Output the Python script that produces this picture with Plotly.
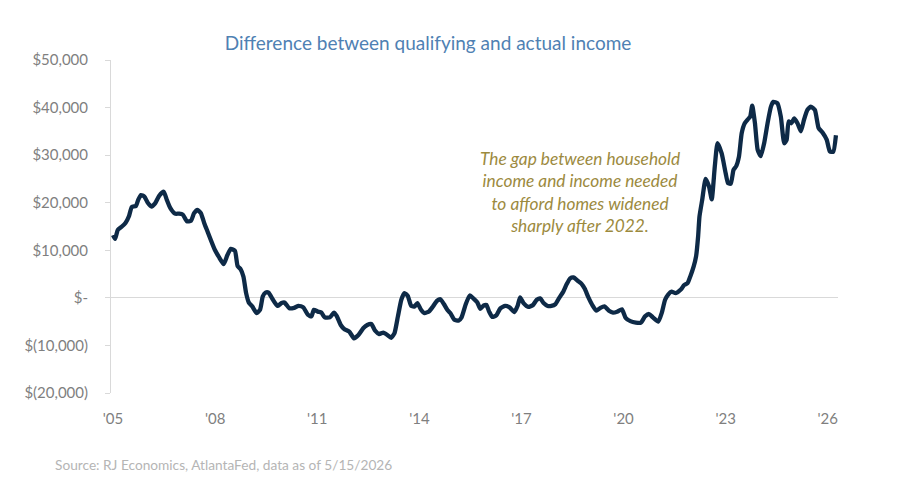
import plotly.graph_objects as go

years = [
    2005.00, 2005.06, 2005.14, 2005.26, 2005.37, 2005.47, 2005.55, 2005.67, 2005.74, 2005.82,
    2005.92, 2006.02, 2006.13, 2006.23, 2006.35, 2006.49, 2006.58, 2006.68, 2006.82, 2006.94,
    2007.05, 2007.17, 2007.29, 2007.38, 2007.48, 2007.58, 2007.68, 2007.79, 2007.87, 2007.99,
    2008.11, 2008.25, 2008.36, 2008.46, 2008.58, 2008.66, 2008.75, 2008.83, 2008.91, 2008.99,
    2009.09, 2009.22, 2009.32, 2009.40, 2009.48, 2009.57, 2009.69, 2009.83, 2009.95, 2010.04,
    2010.18, 2010.32, 2010.45, 2010.59, 2010.73, 2010.83, 2010.90, 2011.02, 2011.12, 2011.22,
    2011.37, 2011.49, 2011.57, 2011.69, 2011.80, 2011.94, 2012.08, 2012.21, 2012.35, 2012.47,
    2012.59, 2012.70, 2012.82, 2012.94, 2013.06, 2013.17, 2013.27, 2013.37, 2013.47, 2013.56,
    2013.66, 2013.76, 2013.86, 2013.94, 2014.05, 2014.15, 2014.29, 2014.40, 2014.52, 2014.62,
    2014.72, 2014.82, 2014.91, 2015.03, 2015.15, 2015.24, 2015.36, 2015.48, 2015.60, 2015.70,
    2015.79, 2015.89, 2015.97, 2016.05, 2016.14, 2016.26, 2016.38, 2016.52, 2016.65, 2016.79,
    2016.89, 2016.96, 2017.06, 2017.20, 2017.34, 2017.45, 2017.55, 2017.65, 2017.77, 2017.88,
    2018.00, 2018.10, 2018.22, 2018.33, 2018.43, 2018.53, 2018.65, 2018.76, 2018.86, 2018.96,
    2019.08, 2019.20, 2019.32, 2019.44, 2019.57, 2019.69, 2019.81, 2019.95, 2020.06, 2020.20,
    2020.36, 2020.51, 2020.63, 2020.75, 2020.86, 2021.02, 2021.12, 2021.22, 2021.31, 2021.41,
    2021.53, 2021.69, 2021.78, 2021.88, 2021.96, 2022.06, 2022.13, 2022.19, 2022.23, 2022.31,
    2022.41, 2022.51, 2022.59, 2022.68, 2022.76, 2022.88, 2023.00, 2023.07, 2023.15, 2023.23,
    2023.31, 2023.39, 2023.47, 2023.56, 2023.66, 2023.72, 2023.78, 2023.86, 2023.94, 2024.03,
    2024.13, 2024.23, 2024.33, 2024.40, 2024.52, 2024.62, 2024.72, 2024.79, 2024.85, 2024.93,
    2025.01, 2025.11, 2025.21, 2025.30, 2025.40, 2025.50, 2025.62, 2025.73, 2025.85, 2025.97,
    2026.06, 2026.16, 2026.24,
]
gap_k = [
    13.2, 12.4, 14.3, 15.0, 15.8, 17.2, 19.1, 19.3, 20.6, 21.6,
    21.3, 20.0, 19.2, 19.8, 21.4, 22.3, 20.6, 18.9, 17.7, 17.7,
    17.5, 16.1, 16.2, 17.8, 18.5, 17.8, 15.7, 13.7, 12.2, 10.1,
    8.6, 7.1, 9.0, 10.3, 9.9, 6.7, 6.0, 4.5, 1.0, -1.0,
    -1.8, -3.2, -2.5, 0.3, 1.1, 1.1, -0.3, -1.7, -1.1, -1.0,
    -2.2, -2.1, -1.7, -2.0, -3.6, -3.9, -2.5, -2.9, -3.1, -4.1,
    -4.1, -3.1, -3.8, -5.7, -6.6, -7.1, -8.5, -7.8, -6.4, -5.7,
    -5.5, -6.9, -7.6, -7.3, -7.8, -8.4, -7.4, -3.9, -0.4, 1.0,
    0.4, -1.7, -1.8, -1.1, -2.5, -3.2, -2.8, -1.8, -0.6, -0.3,
    -1.3, -2.5, -3.2, -4.6, -4.8, -4.1, -1.4, 0.5, -0.2, -0.9,
    -2.3, -1.6, -1.5, -2.9, -4.0, -3.7, -2.2, -1.7, -2.0, -3.0,
    -1.6, 0.1, -1.1, -1.9, -1.5, -0.4, -0.1, -1.1, -1.7, -1.7,
    -1.3, -0.1, 1.2, 2.9, 4.1, 4.3, 3.6, 3.0, 1.9, 0.2,
    -1.5, -2.7, -2.1, -1.8, -2.7, -3.1, -2.9, -2.4, -4.2, -4.9,
    -5.2, -5.2, -3.9, -3.4, -4.1, -5.0, -3.2, -0.4, 0.7, 1.3,
    1.0, 1.8, 2.7, 3.1, 4.5, 6.6, 8.7, 12.9, 17.1, 20.6,
    25.0, 23.4, 20.7, 27.6, 32.5, 30.4, 26.2, 24.1, 24.0, 26.9,
    27.7, 29.7, 34.6, 36.7, 37.6, 38.1, 40.4, 36.7, 31.1, 29.8,
    32.5, 36.7, 40.2, 41.2, 40.9, 38.1, 32.5, 33.2, 37.1, 36.7,
    37.7, 36.7, 35.0, 37.4, 39.5, 40.2, 39.5, 35.7, 34.7, 33.2,
    30.8, 30.7, 34.2,
]
gap = [v * 1000 for v in gap_k]

x_ticks = [2005, 2008, 2011, 2014, 2017, 2020, 2023, 2026]
x_labels = ["'05", "'08", "'11", "'14", "'17", "'20", "'23", "'26"]
y_ticks = [50000, 40000, 30000, 20000, 10000, 0, -10000, -20000]
y_labels = ["$50,000", "$40,000", "$30,000", "$20,000", "$10,000", "$-", "$(10,000)", "$(20,000)"]

note = ("The gap between household<br>income and income needed<br>"
        "to afford homes widened<br>sharply after 2022.")

# page body adds an 8px offset, so the figure is a bit smaller than the window
W, H = 908, 483

fig = go.Figure()
fig.add_trace(go.Scatter(x=years, y=gap, mode='lines',
                         line=dict(color='#0e2a47', width=4.3, shape='spline', smoothing=0.5),
                         hoverinfo='skip'))

fig.update_layout(
    width=W, height=H,
    margin=dict(l=103, r=78, t=52, b=98),
    paper_bgcolor='white', plot_bgcolor='white',
    showlegend=False,
    font=dict(family='Lato, Open Sans, sans-serif', color='#7f7f7f', size=15),
    title=dict(text='Difference between qualifying and actual income',
               x=420 / W, xanchor='center', xref='container',
               y=1 - 35 / H, yanchor='middle', yref='container',
               font=dict(family='Lato, sans-serif', size=19, color='#4f81b3')),
)
fig.update_xaxes(range=[2004.94, 2026.3], tickvals=x_ticks, ticktext=x_labels,
                 showgrid=False, zeroline=False, showline=False,
                 ticks='outside', ticklen=12, tickcolor='rgba(0,0,0,0)',
                 tickfont=dict(size=15, color='#7f7f7f'))
fig.update_yaxes(range=[-20000, 50000], tickvals=y_ticks, ticktext=y_labels,
                 showgrid=False, zeroline=True, zerolinecolor='#d9d9d9', zerolinewidth=1,
                 showline=True, linecolor='#d9d9d9', linewidth=1,
                 ticks='outside', ticklen=5, tickcolor='#d9d9d9',
                 ticklabelstandoff=14,
                 tickfont=dict(size=15, color='#7f7f7f'))

fig.add_annotation(text=note, xref='paper', yref='paper',
                   x=(580 - 111) / 727, y=(393 - 192) / 333, xanchor='center', yanchor='middle',
                   showarrow=False, align='center',
                   font=dict(family='Lato, sans-serif', size=17.3, color='#9c8a3e', style='italic'))

fig.add_annotation(text='Source: RJ Economics, AtlantaFed, data as of 5/15/2026',
                   xref='paper', yref='paper', x=(53 - 111) / 727, y=-(464 - 393) / 333,
                   xanchor='left', yanchor='middle', showarrow=False,
                   font=dict(family='Lato, sans-serif', size=13.7, color='#b5b5b5'))

fig.write_html("out.html")
